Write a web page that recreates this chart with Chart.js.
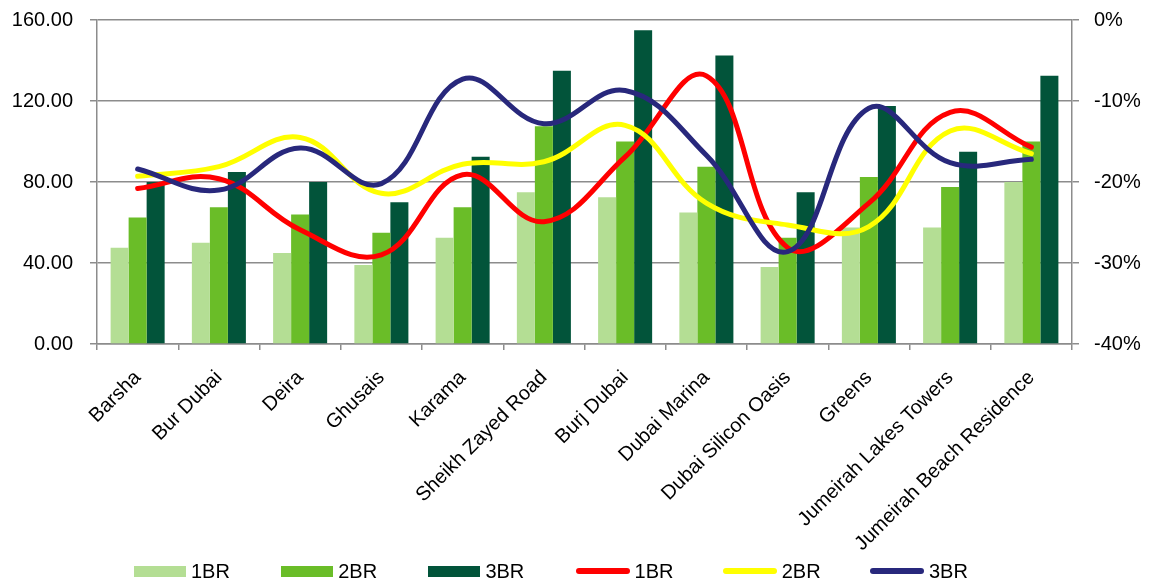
<!DOCTYPE html>
<html>
<head>
<meta charset="utf-8">
<script src="https://cdn.jsdelivr.net/npm/chart.js@4"></script>
<style>
  html, body { margin: 0; padding: 0; background: #fff; }
  #wrap { position: relative; width: 1153px; height: 583px; overflow: hidden; }
  #legend { position: absolute; left: 134px; top: 560px; display: flex; font-family: "Liberation Sans", Arial, sans-serif; font-size: 20px; color: #000; }
  .lg-item { width: 147.2px; display: flex; align-items: center; height: 22px; }
  .lg-box { width: 52px; height: 11px; }
  .lg-line { width: 54px; height: 6px; border-radius: 3px; }
  .lg-text { margin-left: 5px; }
</style>
</head>
<body>
<div id="wrap">
  <canvas id="chart" width="1153" height="583"></canvas>
  <div id="legend"></div>
</div>
<script>
const areas = ['Barsha', 'Bur Dubai', 'Deira', 'Ghusais', 'Karama', 'Sheikh Zayed Road', 'Burj Dubai',
  'Dubai Marina', 'Dubai Silicon Oasis', 'Greens', 'Jumeirah Lakes Towers', 'Jumeirah Beach Residence'];

// rents (left axis)
const rent1BR = [47.5, 50, 45, 39, 52.5, 75, 72.5, 65, 38, 57.5, 57.5, 80];
const rent2BR = [62.5, 67.5, 64, 55, 67.5, 107.5, 100, 87.5, 52.5, 82.5, 77.5, 100];
const rent3BR = [80, 85, 80, 70, 92.5, 135, 155, 142.5, 75, 117.5, 95, 132.5];

// change in % (right axis)
const chg1BR = [-20.8, -19.6, -25.9, -29, -19.1, -24.9, -16.9, -6.9, -28.1, -22.6, -11.4, -15.7];
const chg2BR = [-19.3, -18.1, -14.5, -21.4, -17.8, -17.5, -13, -22.6, -25.3, -25.5, -13.7, -16.5];
const chg3BR = [-18.4, -21, -15.8, -20.2, -7.3, -12.8, -8.7, -16.7, -28.6, -10.9, -17.6, -17.2];

const leftTicks = [0, 40, 80, 120, 160];
const rightTicks = [-40, -30, -20, -10, 0];

const GRID = '#8c8c8c';
Chart.defaults.font.family = '"Liberation Sans", Arial, sans-serif';
Chart.defaults.font.size = 20;
Chart.defaults.color = '#000';

const barDs = (label, data, color) => ({
  type: 'bar', label, data, backgroundColor: color, yAxisID: 'y',
  categoryPercentage: 0.665, barPercentage: 1, order: 3,
});
const lineDs = (label, data, color, order) => ({
  type: 'line', label, data, borderColor: color, backgroundColor: color, yAxisID: 'y1',
  borderWidth: 5, pointRadius: 0, tension: 0.4, borderCapStyle: 'round', fill: false, order,
});

// fixed axis sizes so the plot area lands where the source has it
const fixWidth = w => s => { s.width = w; s.paddingTop = 0; s.paddingBottom = 0; };

const chart = new Chart(document.getElementById('chart'), {
  data: {
    labels: areas,
    datasets: [
      barDs('1BR', rent1BR, '#b4de94'),
      barDs('2BR', rent2BR, '#6abd28'),
      barDs('3BR', rent3BR, '#02543a'),
      lineDs('1BR', chg1BR, '#ff0000', 2),
      lineDs('2BR', chg2BR, '#ffff00', 1),
      lineDs('3BR', chg3BR, '#28287c', 0),
    ],
  },
  options: {
    responsive: false,
    animation: false,
    layout: { padding: { top: 20, left: 0, right: 0, bottom: 0 } },
    plugins: { legend: { display: false }, tooltip: { enabled: false } },
    scales: {
      x: {
        offset: true,
        grid: { offset: true, drawOnChartArea: false, color: GRID, lineWidth: 1.5, tickLength: 6 },
        border: { color: GRID, width: 1.5 },
        ticks: { autoSkip: false, minRotation: 45, maxRotation: 45, padding: 16 },
        afterFit: s => { s.height = 239; s.paddingLeft = 0; s.paddingRight = 0; },
      },
      y: {
        position: 'left', min: 0, max: 160,
        afterBuildTicks: s => { s.ticks = leftTicks.map(v => ({ value: v })); },
        ticks: { padding: 17, callback: v => v.toFixed(2) },
        grid: { color: GRID, lineWidth: 1.5, tickLength: 7 },
        border: { color: GRID, width: 1.5 },
        afterFit: fixWidth(97),
      },
      y1: {
        position: 'right', min: -40, max: 0,
        afterBuildTicks: s => { s.ticks = rightTicks.map(v => ({ value: v })); },
        ticks: { padding: 15, callback: v => v + '%' },
        grid: { drawOnChartArea: false, color: GRID, lineWidth: 1.5, tickLength: 7 },
        border: { color: GRID, width: 1.5 },
        afterFit: fixWidth(81),
      },
    },
  },
});

// legend in the order of the source: bars first, then lines
const legend = document.getElementById('legend');
chart.data.datasets.forEach(ds => {
  const item = document.createElement('div');
  item.className = 'lg-item';
  const mark = document.createElement('div');
  mark.className = ds.type === 'bar' ? 'lg-box' : 'lg-line';
  mark.style.background = ds.type === 'bar' ? ds.backgroundColor : ds.borderColor;
  const text = document.createElement('span');
  text.className = 'lg-text';
  text.textContent = ds.label;
  item.appendChild(mark);
  item.appendChild(text);
  legend.appendChild(item);
});
</script>
</body>
</html>
